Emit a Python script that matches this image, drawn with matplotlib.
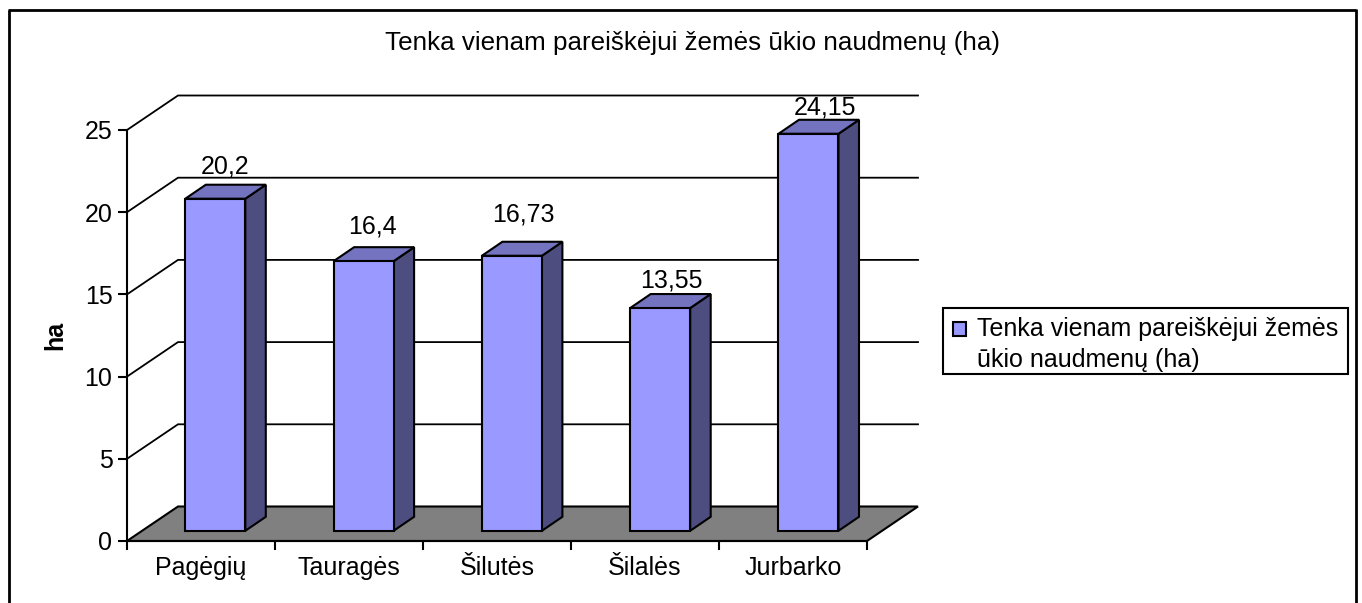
import matplotlib
matplotlib.use("Agg")
import matplotlib.pyplot as plt
from matplotlib.patches import Polygon, Rectangle
from matplotlib.lines import Line2D

categories = ["Pagėgių", "Tauragės", "Šilutės", "Šilalės", "Jurbarko"]
values = [20.2, 16.4, 16.73, 13.55, 24.15]
value_labels = ["20,2", "16,4", "16,73", "13,55", "24,15"]
y_ticks = [0, 5, 10, 15, 20, 25]
title = "Tenka vienam pareiškėjui žemės ūkio naudmenų (ha)"
legend_label = "Tenka vienam pareiškėjui žemės\nūkio naudmenų (ha)"
y_label = "ha"

label_offsets = [(10, 32), (9, 35), (11, 41), (11, 28), (17, 26)]

W, H = 1362, 603
plt.rcParams["font.family"] = ["Liberation Sans", "DejaVu Sans"]
FS = 18.0
LW = 1.5
INK = "#000000"

fig = plt.figure(figsize=(W / 100, H / 100), dpi=100, facecolor="white")

# outer frame (open at the bottom)
for xs, ys in [((8.5, 8.5), (603, 9.5)), ((7.5, 1356), (9.5, 9.5)), ((1356, 1356), (8.5, 603))]:
    fig.add_artist(Line2D([x / W for x in xs], [1 - y / H for y in ys], color=INK, lw=2.0,
                          solid_capstyle="butt"))

ax = fig.add_axes([127 / W, 1 - 541 / H, 740 / W, 411 / H])
ax.set_xlim(0, 5)
ax.set_ylim(0, 25)
ax.patch.set_visible(False)
for s in ("top", "right"):
    ax.spines[s].set_visible(False)
for s in ("left", "bottom"):
    ax.spines[s].set_linewidth(LW)
    ax.spines[s].set_zorder(6)

DX, DY = 51 / 148, 34.5 / 16.44      # floor depth in data units
BAR_W = 60 / 148
BAR_X0 = 58.3 / 148
BAR_STEP = 148.3 / 148
BAR_Y0 = 10.2 / 16.44
SIDE_X, SIDE_Y = 20.5 / 148, 14 / 16.44

# floor
ax.add_patch(Polygon([(0, 0), (DX, DY), (5 + DX, DY), (5, 0)], closed=True, fc="#808080",
                     ec=INK, lw=LW, clip_on=False, zorder=1, joinstyle="miter"))
# gridlines
for t in y_ticks[1:]:
    ax.plot([0, DX, 5 + DX], [t, t + DY, t + DY], color=INK, lw=1.3, clip_on=False, zorder=1,
            solid_joinstyle="miter")

FRONT, SIDE, TOP = "#9999FF", "#4D4D80", "#7373BF"
for i, (v, lab, off) in enumerate(zip(values, value_labels, label_offsets)):
    x0 = i * BAR_STEP + BAR_X0
    x1 = x0 + BAR_W
    y0 = BAR_Y0
    y1 = y0 + v
    kw = dict(closed=True, ec=INK, lw=LW, clip_on=False, zorder=3, joinstyle="miter")
    ax.add_patch(Polygon([(x1, y0), (x1 + SIDE_X, y0 + SIDE_Y), (x1 + SIDE_X, y1 + SIDE_Y), (x1, y1)], fc=SIDE, **kw))
    ax.add_patch(Polygon([(x0, y1), (x0 + SIDE_X, y1 + SIDE_Y), (x1 + SIDE_X, y1 + SIDE_Y), (x1, y1)], fc=TOP, **kw))
    ax.add_patch(Polygon([(x0, y0), (x1, y0), (x1, y1), (x0, y1)], fc=FRONT, **kw))
    ax.annotate(lab, xy=(x0 + BAR_W / 2, y1), xytext=off, textcoords="offset pixels",
                ha="center", va="center", fontsize=FS, color=INK, zorder=5, annotation_clip=False)

ax.set_yticks(y_ticks)
ax.set_xticks(range(6))
ax.set_xticklabels([])
ax.set_xticks([i + 0.5 for i in range(5)], minor=True)
ax.set_xticklabels(categories, minor=True, fontsize=FS)
ax.tick_params(axis="x", which="minor", length=0, pad=11)
ax.tick_params(axis="x", which="major", length=6.5, width=LW, direction="out")
ax.tick_params(axis="y", length=6.5, width=LW, direction="out", labelsize=FS, pad=4)

fig.text(55 / W, 1 - 335 / H, y_label, rotation=90, ha="center", va="center",
         fontsize=FS, fontweight="bold", color=INK)
fig.text(693 / W, 1 - 43 / H, title, ha="center", va="center", fontsize=FS * 1.04, color=INK)

# legend
handle = Rectangle((0, 0), 1, 1, fc=FRONT, ec=INK, lw=1.5)
leg = fig.legend([handle], [legend_label], loc="lower left",
                 bbox_to_anchor=(943 / W, 1 - 374 / H, 405 / W, 66 / H), mode="expand",
                 frameon=True, fancybox=False, edgecolor=INK, framealpha=1,
                 fontsize=FS, handlelength=0.52, handleheight=0.52, handletextpad=0.43,
                 borderpad=0.24, borderaxespad=0, labelspacing=0.2)
leg.get_frame().set_linewidth(LW)
for t in leg.get_texts():
    t.set_linespacing(1.32)
    t.set_position((4, -3.5))        # pixels inside the legend entry
for h in leg.legend_handles:
    x, y = h.get_xy()
    h.set_xy((x + 3, y + 9))         # points inside the legend entry

fig.savefig("out.png", dpi=100, facecolor="white")
